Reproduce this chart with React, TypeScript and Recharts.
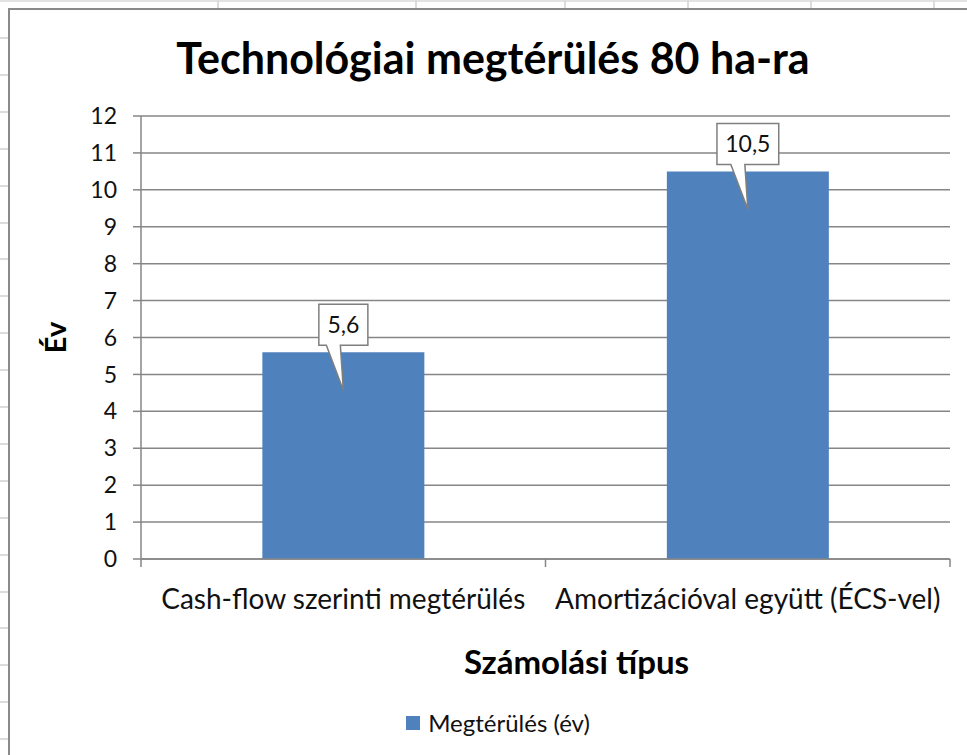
import { BarChart, Bar, XAxis, YAxis, CartesianGrid, Legend, LabelList } from "recharts"

const categories = ["Cash-flow szerinti megtérülés", "Amortizációval együtt (ÉCS-vel)"]
const paybackYears = [5.6, 10.5]
const yTicks = [0, 1, 2, 3, 4, 5, 6, 7, 8, 9, 10, 11, 12]
const seriesName = "Megtérülés (év)"
const chartTitle = "Technológiai megtérülés 80 ha-ra"
const xTitle = "Számolási típus"
const yTitle = "Év"

const data = categories.map((category, i) => ({ category, value: paybackYears[i] }))

const FONT = "Lato, 'Noto Sans', sans-serif"
const BAR_COLOR = "#4f81bd"
const LINE_COLOR = "#868686"
const SHEET_LINE = "#dcdcdc"

// spreadsheet column borders visible above the chart
const sheetColumns = [217, 415, 564, 687, 810, 933]

function formatValue(v: number) {
  return String(v).replace(".", ",")
}

function CategoryTick(props: any) {
  const { x, y, payload, index, visibleTicksCount, width } = props
  const half = payload?.offset ?? width / (2 * visibleTicksCount)
  const last = index === visibleTicksCount - 1
  return (
    <g>
      <line x1={x - half} x2={x - half} y1={y} y2={y + 8} stroke={LINE_COLOR} strokeWidth={1.5} />
      {last && <line x1={x + half} x2={x + half} y1={y} y2={y + 8} stroke={LINE_COLOR} strokeWidth={1.5} />}
      <text x={x} y={y + 50} textAnchor="middle" fontSize={28} fontFamily={FONT} fill="#111">
        {payload.value}
      </text>
    </g>
  )
}

function Callout(props: any) {
  const { x, y, width, value } = props
  const text = formatValue(value)
  const cx = x + width / 2
  const textW = text.split("").reduce((s: number, ch: string) => s + (ch === "," ? 0.25 : 0.58), 0) * 22
  const boxW = textW + 18
  const left = cx - boxW / 2
  const right = cx + boxW / 2
  const top = y - 48
  const bottom = y - 7
  const d = `M${left},${top} H${right} V${bottom} H${cx - 3} L${cx},${y + 38} L${cx - 17},${bottom} H${left} Z`
  return (
    <g>
      <path d={d} fill="#fff" stroke="#7f7f7f" strokeWidth={1.5} />
      <text x={cx} y={top + 29} textAnchor="middle" fontSize={23} fontFamily={FONT} fill="#111">
        {text}
      </text>
    </g>
  )
}

function YTitle(props: any) {
  const { viewBox } = props
  const cy = viewBox.y + viewBox.height / 2
  return (
    <text x={66} y={cy} transform={`rotate(-90, 66, ${cy})`} textAnchor="middle" fontSize={29} fontWeight="bold" fontFamily={FONT} fill="#000">
      {yTitle}
    </text>
  )
}

function LegendContent() {
  return (
    <div style={{ display: "flex", justifyContent: "center", alignItems: "center", fontFamily: FONT, fontSize: 24, color: "#111" }}>
      <span style={{ width: 14, height: 14, background: BAR_COLOR, marginRight: 8, display: "inline-block" }} />
      <span>{seriesName}</span>
    </div>
  )
}

export default function App() {
  return (
    <div style={{ position: "fixed", left: 0, top: 0, width: 967, height: 755, overflow: "hidden", background: "#fff" }}>
      {/* spreadsheet background */}
      <div style={{ position: "absolute", left: 0, top: 0, width: 967, height: 2, background: "#e2e2e2" }} />
      {sheetColumns.map((cx) => (
        <div key={cx} style={{ position: "absolute", left: cx, top: 0, width: 2, height: 9, background: SHEET_LINE }} />
      ))}
      {Array.from({ length: 20 }, (_, i) => (
        <div key={i} style={{ position: "absolute", left: 0, top: 37 + i * 36.9, width: 9, height: 2, background: SHEET_LINE }} />
      ))}
      <div style={{ position: "absolute", left: 8, top: 8, width: 980, height: 760, borderLeft: "2px solid #8a8a8a", borderTop: "2px solid #8a8a8a", background: "#fff" }} />

      <svg style={{ position: "absolute", left: 0, top: 0 }} width={967} height={755}>
        <text x={493} y={74} textAnchor="middle" fontSize={43} fontWeight="bold" fontFamily={FONT} fill="#000">
          {chartTitle}
        </text>
      </svg>

      <div style={{ position: "absolute", left: 0, top: 0 }}>
        <BarChart width={967} height={755} data={data} margin={{ top: 116, right: 17, bottom: 18, left: 0 }} barCategoryGap="30%">
          <CartesianGrid vertical={false} stroke={LINE_COLOR} strokeWidth={1.5} />
          <XAxis
            dataKey="category"
            height={149}
            axisLine={{ stroke: LINE_COLOR, strokeWidth: 1.5 }}
            tickLine={false}
            tickSize={0}
            tickMargin={0}
            interval={0}
            tick={<CategoryTick />}
            label={{ value: xTitle, position: "insideTop", dx: 31, dy: 87, fontSize: 33, fontWeight: "bold", fontFamily: FONT, fill: "#000" }}
          />
          <YAxis
            width={141}
            domain={[0, 12]}
            ticks={yTicks}
            interval={0}
            axisLine={{ stroke: LINE_COLOR, strokeWidth: 1.5 }}
            tickLine={{ stroke: LINE_COLOR, strokeWidth: 1.5 }}
            tickSize={8}
            tickMargin={16}
            tick={{ fontSize: 23, fontFamily: FONT, fill: "#111" }}
            label={<YTitle />}
          />
          <Legend verticalAlign="bottom" content={<LegendContent />} wrapperStyle={{ left: 0, width: 996 }} />
          <Bar dataKey="value" name={seriesName} fill={BAR_COLOR} isAnimationActive={false}>
            <LabelList dataKey="value" content={<Callout />} />
          </Bar>
        </BarChart>
      </div>
    </div>
  )
}
